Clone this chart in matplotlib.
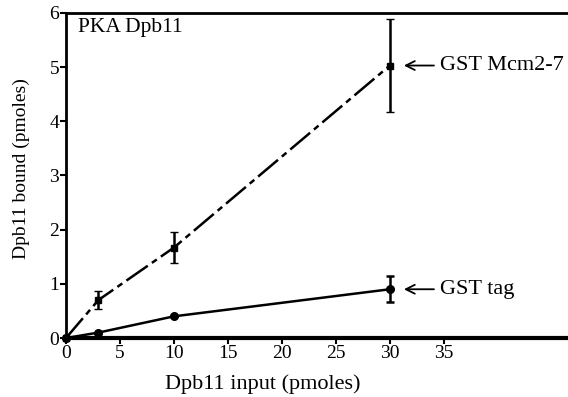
import matplotlib.pyplot as plt
import numpy as np

plt.rcParams['font.family'] = ['Liberation Serif', 'DejaVu Serif']

# data
dpb11_input = [0, 3, 10, 30]
mcm_bound = [0.0, 0.70, 1.67, 5.03]
mcm_err = [0.0, 0.17, 0.29, 0.85]
tag_bound = [0.0, 0.10, 0.40, 0.90]
tag_err = [0.0, 0.0, 0.0, 0.24]
x_ticks = [0, 5, 10, 15, 20, 25, 30, 35]
y_ticks = [0, 1, 2, 3, 4, 5, 6]

fig = plt.figure(figsize=(5.68, 3.97), dpi=100)
ax = fig.add_axes([0.1162, 0.1486, 0.8838, 0.8187])

# GST Mcm2-7 (dash-dot, square markers)
ax.errorbar(dpb11_input, mcm_bound, yerr=mcm_err, color='black', lw=1.8,
            linestyle=(0, (10.4, 2, 2.4, 2)), marker='s', ms=5, mfc='black',
            mew=1, ecolor='black', elinewidth=1.8, capsize=3, capthick=1.8,
            zorder=3, clip_on=False)
# GST tag (solid, round markers)
ax.errorbar(dpb11_input, tag_bound, yerr=tag_err, color='black', lw=1.8,
            marker='o', ms=5.5, ecolor='black', elinewidth=1.8, capsize=3,
            capthick=1.8, zorder=3, clip_on=False)

ax.set_xlim(0, 46.5)
ax.set_ylim(0, 6)
ax.set_xticks(x_ticks)
ax.set_yticks(y_ticks)
ax.tick_params(direction='out', length=4, width=1.5, labelsize=14, pad=1)
ax.spines['right'].set_visible(False)
ax.spines['left'].set_linewidth(2)
ax.spines['top'].set_linewidth(2)
ax.spines['bottom'].set_linewidth(3)

fig.text(263 / 568, 1 - 384 / 397, 'Dpb11 input (pmoles)', fontsize=16,
         ha='center', va='center')
fig.text(21 / 568, 1 - 169 / 397, 'Dpb11 bound (pmoles)', fontsize=14,
         ha='center', va='center', rotation=90)
ax.text(1.1, 5.9, 'PKA Dpb11', fontsize=15.5, va='top', ha='left')

ax.annotate('GST Mcm2-7', xy=(31.3, mcm_bound[3]), xytext=(34.6, mcm_bound[3]),
            fontsize=16, va='center', ha='left',
            arrowprops=dict(arrowstyle='->', color='black', lw=1.3,
                            shrinkA=2, shrinkB=0))
ax.annotate('GST tag', xy=(31.3, tag_bound[3]), xytext=(34.6, tag_bound[3]),
            fontsize=16, va='center', ha='left',
            arrowprops=dict(arrowstyle='->', color='black', lw=1.3,
                            shrinkA=2, shrinkB=0))

fig.savefig('out.png', dpi=100)
